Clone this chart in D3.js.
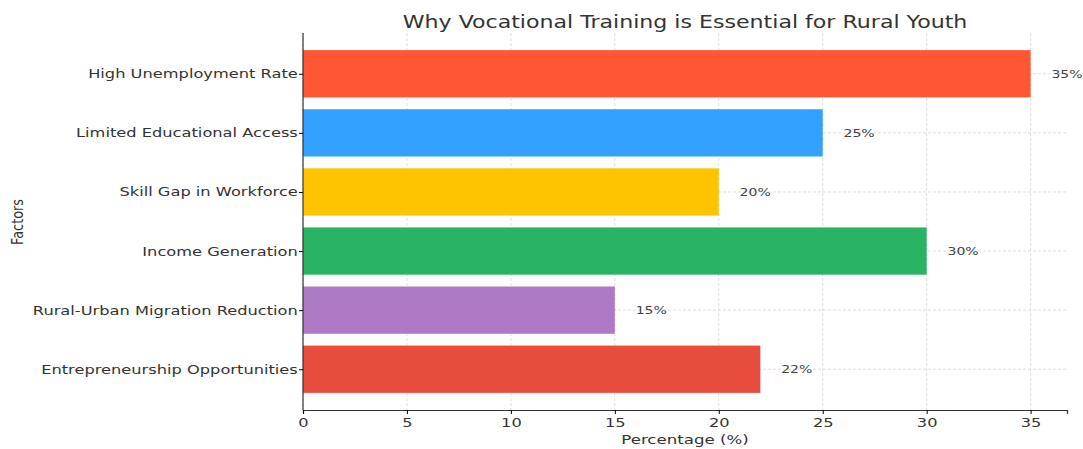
<!DOCTYPE html>
<meta charset="utf-8"/>
<style>
  body { margin: 0; background: #fff; }
  text { font-family: "DejaVu Sans", sans-serif; }
</style>
<svg width="1083" height="449"></svg>
<script src="https://d3js.org/d3.v7.min.js"></script>
<script>

var factors = ["High Unemployment Rate", "Limited Educational Access", "Skill Gap in Workforce",
               "Income Generation", "Rural-Urban Migration Reduction", "Entrepreneurship Opportunities"];
var percentages = [35, 25, 20, 30, 15, 22];
var barColors = ["#FF5733", "#33A1FF", "#FFC300", "#28B463", "#AF7AC5", "#E74C3C"];
var xTicks = [0, 5, 10, 15, 20, 25, 30, 35];

var svg = d3.select("svg"),
    pLeft = 303, pRight = 1067, pTop = 33, pBottom = 410,
    sx = 1.3; // the source picture is stretched sideways, so text is too

var x = d3.scaleLinear()
    .domain([0, 36.75])
    .range([pLeft, pRight]);

// matplotlib style: bar centers at index, bar height 0.8, 5% margins
var y = d3.scaleLinear()
    .domain([-0.69, factors.length - 1 + 0.69])
    .range([pTop, pBottom]);

var bandH = y(0.4) - y(-0.4);

// grid
svg.append("g").selectAll("line")
    .data(xTicks)
  .enter().append("line")
    .attr("x1", d => x(d)).attr("x2", d => x(d))
    .attr("y1", pTop).attr("y2", pBottom)
    .attr("stroke", "#d4d4d4")
    .attr("stroke-width", 0.8)
    .attr("stroke-dasharray", "3,2");

svg.append("g").selectAll("line")
    .data(factors)
  .enter().append("line")
    .attr("x1", pLeft).attr("x2", pRight)
    .attr("y1", (d, i) => y(i)).attr("y2", (d, i) => y(i))
    .attr("stroke", "#d4d4d4")
    .attr("stroke-width", 0.8)
    .attr("stroke-dasharray", "3,2");

// bars
svg.append("g").selectAll("rect")
    .data(percentages)
  .enter().append("rect")
    .attr("x", x(0))
    .attr("y", (d, i) => y(i) - bandH / 2)
    .attr("width", d => x(d) - x(0))
    .attr("height", bandH)
    .attr("fill", (d, i) => barColors[i]);

// value labels
svg.append("g").selectAll("text")
    .data(percentages)
  .enter().append("text")
    .attr("transform", (d, i) => "translate(" + x(d + 1) + "," + y(i) + ") scale(" + sx + ",1)")
    .attr("dy", "0.35em")
    .attr("fill", "#444")
    .style("font-size", "10.8px")
    .text(d => d + "%");

// axes
var xAxis = svg.append("g")
    .attr("transform", "translate(0," + pBottom + ")")
    .call(d3.axisBottom(x).tickValues(xTicks).tickSize(4).tickPadding(4));
xAxis.select(".domain").attr("stroke", "#333").attr("stroke-width", 1.2);
xAxis.selectAll("text").style("font-size", "12.5px").attr("fill", "#333")
    .attr("transform", "scale(" + sx + ",1)");

var yAxis = svg.append("g")
    .attr("transform", "translate(" + pLeft + ",0)")
    .call(d3.axisLeft(y).tickValues(d3.range(factors.length))
      .tickFormat(i => factors[i]).tickSize(4).tickPadding(0));
yAxis.select(".domain").attr("d", "M0," + pTop + "V" + pBottom)
    .attr("stroke", "#333").attr("stroke-width", 1.2);
yAxis.selectAll("text").style("font-size", "12.5px").attr("fill", "#333")
    .attr("transform", "scale(" + sx + ",1)");

// titles
svg.append("text")
    .attr("transform", "translate(685,28) scale(" + sx + ",1)")
    .attr("text-anchor", "middle")
    .attr("fill", "#333")
    .style("font-size", "17px")
    .text("Why Vocational Training is Essential for Rural Youth");

svg.append("text")
    .attr("transform", "translate(685,444) scale(" + sx + ",1)")
    .attr("text-anchor", "middle")
    .attr("fill", "#333")
    .style("font-size", "12.8px")
    .text("Percentage (%)");

svg.append("text")
    .attr("transform", "translate(23," + 222 + ") scale(" + sx + ",1) rotate(-90)")
    .attr("text-anchor", "middle")
    .attr("fill", "#333")
    .style("font-size", "12.8px")
    .text("Factors");

</script>
